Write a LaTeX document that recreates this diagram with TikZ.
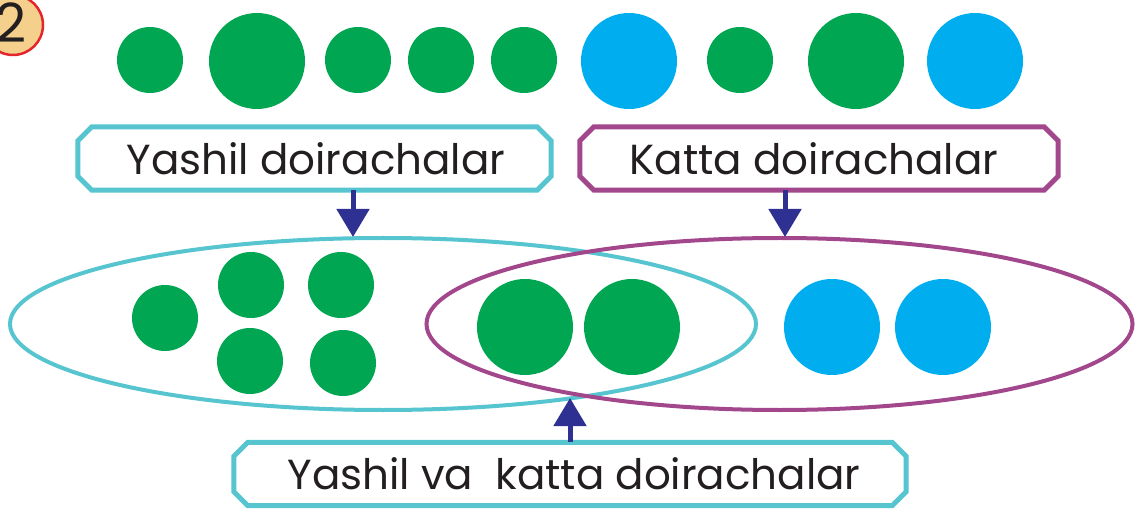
\documentclass[tikz,border=0pt]{standalone}
\usepackage{fontspec}
\setmainfont{Poppins}
\usetikzlibrary{shapes.geometric,arrows.meta,calc}
\definecolor{gr}{HTML}{00A651}
\definecolor{bl}{HTML}{00AEEF}
\definecolor{cy}{HTML}{56C5D0}
\definecolor{pu}{HTML}{A3478D}
\definecolor{ar}{HTML}{2E3192}
\definecolor{tx}{HTML}{231F20}
\definecolor{badge}{HTML}{F5D08C}
\definecolor{badgeline}{HTML}{E2262B}
\tikzset{
  dot/.style={circle,fill=gr,inner sep=0pt,minimum size=#1},
  bdot/.style={circle,fill=bl,inner sep=0pt,minimum size=#1},
  label box/.style={rectangle,inner sep=0pt,minimum height=63pt,font=\fontsize{42}{44}\selectfont,text=tx},
  chamfer/.style={line width=5pt,draw=#1,fill=white,line join=miter},
  set/.style={ellipse,draw=#1,line width=4pt,inner sep=0pt,minimum height=172pt},
  pointer/.style={draw=ar,line width=5pt,-{Triangle[width=32pt,length=28pt]}},
}
\newcommand{\chamferbox}[2]{%
  \draw[chamfer=#2] ($(#1.north west)+(14,0)$) -- ($(#1.north east)+(-14,0)$) -- ($(#1.north east)+(0,14)$)
    -- ($(#1.south east)+(0,-14)$) -- ($(#1.south east)+(-14,0)$) -- ($(#1.south west)+(14,0)$)
    -- ($(#1.south west)+(0,-14)$) -- ($(#1.north west)+(0,14)$) -- cycle;}
\begin{document}
\begin{tikzpicture}[x=1pt,y=-1pt]
\useasboundingbox (0,0) rectangle (1142,510);
\clip (0,0) rectangle (1142,510);
% badge
\node[circle,fill=badge,draw=badgeline,line width=2.5pt,minimum size=60pt,inner sep=0pt] (badge) at (13,25) {};
\node[font=\fontsize{54}{56}\selectfont,text=tx] (two) at (11,23) {2};
% top row
\node[dot=66pt] (t1) at (150,60) {};
\node[dot=96pt] (t2) at (257,61) {};
\node[dot=66pt] (t3) at (358,60) {};
\node[dot=66pt] (t4) at (441,60) {};
\node[dot=66pt] (t5) at (524,60) {};
\node[bdot=96pt] (t6) at (629,61) {};
\node[dot=66pt] (t7) at (740,60) {};
\node[dot=96pt] (t8) at (856,61) {};
\node[bdot=96pt] (t9) at (975,61) {};
% sets
\node[set=cy,minimum width=746pt] (e1) at (383,324) {};
\node[set=pu,minimum width=706pt] (e2) at (779.5,324) {};
% bottom circles
\node[dot=66pt] (b1) at (165,318) {};
\node[dot=66pt] (b2) at (251,285) {};
\node[dot=66pt] (b3) at (341,285) {};
\node[dot=66pt] (b4) at (250,361) {};
\node[dot=66pt] (b5) at (343,363) {};
\node[dot=96pt] (b6) at (525,327) {};
\node[dot=96pt] (b7) at (632,327) {};
\node[bdot=96pt] (b8) at (832,327) {};
\node[bdot=96pt] (b9) at (943,327) {};
% label boxes
\node[label box,minimum width=473pt] (y1) at (314.5,158.5) {};
\chamferbox{y1}{cy}
\node[label box] (y1t) at (316,158.5) {Yashil doirachalar};
\node[label box,minimum width=478pt] (k1) at (819,158.5) {};
\chamferbox{k1}{pu}
\node[label box] (k1t) at (814,158.5) {Katta doirachalar};
\node[label box,minimum width=672pt] (yk) at (570,474) {};
\chamferbox{yk}{cy}
\node[label box] (ykt) at (574,474) {Yashil va\ \ katta doirachalar};
% arrows
\coordinate (a1) at (353,237);
\coordinate (a2) at (785,237);
\coordinate (a3) at (570,398);
\draw[pointer] (y1.south -| a1) -- (a1);
\draw[pointer] (k1.south -| a2) -- (a2);
\draw[pointer] (yk.north -| a3) -- (a3);
\end{tikzpicture}
\end{document}
